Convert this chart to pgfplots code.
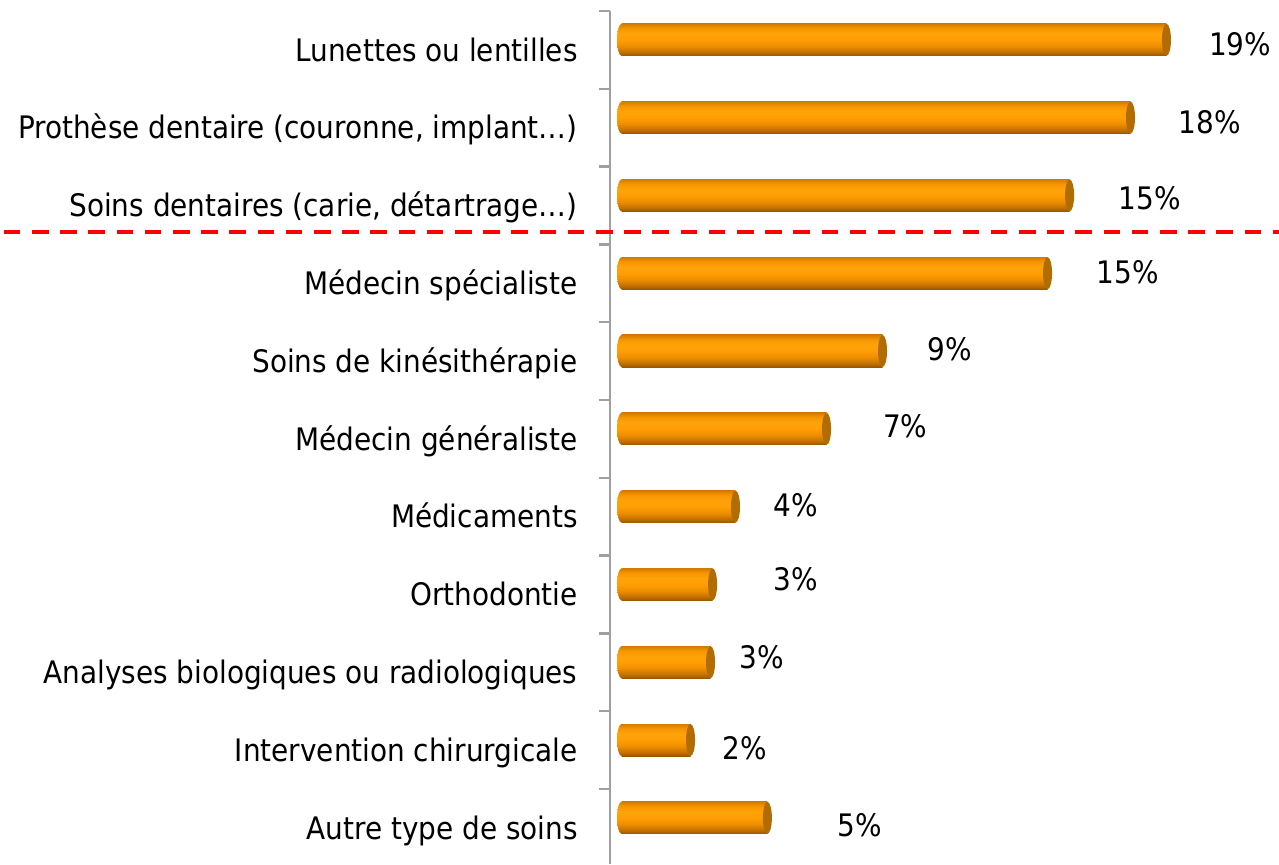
\documentclass[border=0pt]{standalone}
\usepackage{fontspec}
\setmainfont{DejaVu Sans Condensed}
\usepackage{pgfplots}
\pgfplotsset{compat=1.18}
\usepackage{pgfplotstable}
\usetikzlibrary{shapes.geometric}
\definecolor{capCol}{RGB}{178,108,4}
\definecolor{axGray}{RGB}{160,160,160}
\pgfdeclareverticalshading{cyl}{100bp}{%
  color(0bp)=(rgb,255:red,150;green,88;blue,0);
  color(25bp)=(rgb,255:red,150;green,88;blue,0);
  color(30bp)=(rgb,255:red,190;green,110;blue,0);
  color(40bp)=(rgb,255:red,238;green,142;blue,0);
  color(50bp)=(rgb,255:red,255;green,158;blue,4);
  color(60bp)=(rgb,255:red,255;green,163;blue,10);
  color(68bp)=(rgb,255:red,246;green,150;blue,0);
  color(75bp)=(rgb,255:red,212;green,124;blue,0);
  color(100bp)=(rgb,255:red,212;green,124;blue,0)}

\pgfplotstableread{
y yb v lx ly lab
0 -0.13 18.79 21.33 -0.076 19
1 0.87 17.55 20.29 0.927 18
2 1.87 15.45 18.22 1.904 15
3 2.87 14.69 17.45 2.855 15
4 3.87 9.00 11.33 3.845 9
5 4.87 7.07 9.78 4.834 7
6 5.87 3.93 6.02 5.850 4
7 6.87 3.14 6.02 6.801 3
8 7.87 3.07 4.84 7.803 3
9 8.87 2.38 4.26 8.972 2
10 9.87 5.03 8.22 9.962 5
}\data

\begin{document}
\fontsize{15.5pt}{18pt}\selectfont
\begin{tikzpicture}
\path[use as bounding box] (0,0) rectangle (639.5pt,432pt);
\begin{axis}[
  at={(305pt,0pt)}, anchor=south west,
  scale only axis, width=334.5pt, height=426.5pt,
  xmin=-0.397, xmax=22.67, ymin=-0.5, ymax=10.464, y dir=reverse,
  axis x line=none, axis y line*=left,
  axis line style={axGray, line width=1.2pt},
  clip=false,
  ytick={0,...,10},
  yticklabels={Lunettes ou lentilles,{Prothèse dentaire (couronne, implant…)},{Soins dentaires (carie, détartrage…)},Médecin spécialiste,Soins de kinésithérapie,Médecin généraliste,Médicaments,Orthodontie,Analyses biologiques ou radiologiques,Intervention chirurgicale,Autre type de soins},
  major tick length=0pt,
  minor ytick={-0.5,0.5,...,9.5},
  minor tick length=5.5pt,
  tick align=outside,
  tick style={axGray, line width=1.2pt},
  yticklabel style={anchor=east, inner sep=0pt, text height=0.95em, text depth=0.23em, xshift=-16pt, font=\fontsize{15.5pt}{18pt}\selectfont, text=black},
]
% left rounded ends
\addplot[draw=none, nodes near coords={},
  every node near coord/.append style={anchor=center, shape=ellipse, inner sep=0pt, minimum width=4.5pt, minimum height=16pt, shading=cyl}]
  table[x expr=0, y=yb]{\data};
% bars, one plot per bar so that each bar has its own shading
\pgfplotsinvokeforeach{0,...,10}{
\addplot[xbar, bar width=16pt, bar shift=0pt, draw=none, shading=cyl,
  restrict expr to domain={\coordindex}{#1:#1}]
  table[x=v, y=yb]{\data};
}
% right caps
\addplot[draw=none, nodes near coords={},
  every node near coord/.append style={anchor=center, shape=ellipse, inner sep=0pt, minimum width=4.5pt, minimum height=16pt, fill=capCol, draw=none}]
  table[x=v, y=yb]{\data};
% value labels
\addplot[draw=none, point meta=explicit symbolic, nodes near coords={\pgfplotspointmeta\%},
  every node near coord/.append style={anchor=center, inner sep=0pt, text=black, font=\fontsize{15.5pt}{18pt}\selectfont}]
  table[x=lx, y=ly, meta=lab]{\data};
% separator
\draw[red, line width=2pt, dash pattern=on 8.3pt off 5.8pt] (-21.3,2.344) -- (22.67,2.344);
\end{axis}
\end{tikzpicture}
\end{document}
